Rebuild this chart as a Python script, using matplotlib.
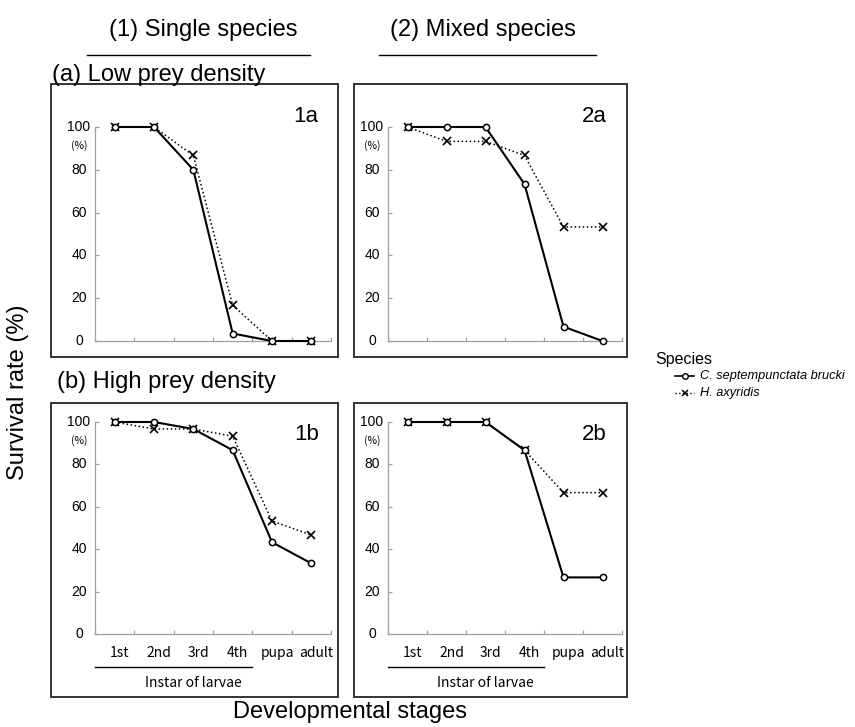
import matplotlib
matplotlib.use("Agg")
import matplotlib.pyplot as plt
from matplotlib.patches import Rectangle
from matplotlib.lines import Line2D
from matplotlib.transforms import offset_copy

# ---------------- data ----------------
stages = ["1st", "2nd", "3rd", "4th", "pupa", "adult"]
yticks = [0, 20, 40, 60, 80, 100]
species = ["C. septempunctata brucki", "H. axyridis"]

c_1a = [100, 100, 80, 3.5, 0, 0]
h_1a = [100, 100, 86.7, 16.7, 0, 0]
c_2a = [100, 100, 100, 73.3, 6.7, 0]
h_2a = [100, 93.3, 93.3, 86.7, 53.3, 53.3]
c_1b = [100, 100, 96.7, 86.7, 43.3, 33.3]
h_1b = [100, 96.7, 96.7, 93.3, 53.3, 46.7]
c_2b = [100, 100, 100, 86.7, 26.7, 26.7]
h_2b = [100, 100, 100, 86.7, 66.7, 66.7]

panels = [
    ("1a", c_1a, h_1a),
    ("2a", c_2a, h_2a),
    ("1b", c_1b, h_1b),
    ("2b", c_2b, h_2b),
]

# ---------------- layout ----------------
W, H = 855, 727
fig = plt.figure(figsize=(W / 100, H / 100), dpi=100)

SANS = ["Liberation Sans", "DejaVu Sans"]
JP = ["Noto Sans CJK JP", "DejaVu Sans"]


def fx(x):
    return x / W


def fy(y):
    return 1 - y / H


col_axis = [(95, 331), (388, 622)]
row_axis = [(127, 341), (422, 634)]
col_box = [(51, 338), (354, 627)]
row_box = [(84, 357), (403, 697)]
label_pos = [(306, 117), (594, 117), (307, 434), (594, 434)]

for k, (name, c_vals, h_vals) in enumerate(panels):
    r, c = divmod(k, 2)
    bx0, bx1 = col_box[c]
    by0, by1 = row_box[r]
    fig.add_artist(Rectangle((fx(bx0), fy(by1)), fx(bx1) - fx(bx0), fy(by0) - fy(by1),
                             transform=fig.transFigure, fill=False, lw=1.4,
                             ec="#333333", zorder=0))
    ax0, ax1 = col_axis[c]
    ay0, ay1 = row_axis[r]
    ax = fig.add_axes([fx(ax0), fy(ay1), fx(ax1) - fx(ax0), fy(ay0) - fy(ay1)])
    ax.patch.set_alpha(0)
    xs = list(range(len(stages)))
    ax.plot(xs, h_vals, linestyle=":", color="black", lw=1.1, marker="x",
            ms=5.5, mew=1.2, clip_on=False, zorder=3)
    ax.plot(xs, c_vals, linestyle="-", color="black", lw=1.5, marker="o",
            ms=4.5, mfc="white", mew=1.1, clip_on=False, zorder=4)
    ax.set_xlim(-0.5, len(stages) - 0.5)
    ax.set_ylim(0, 100)
    for s in ["top", "right"]:
        ax.spines[s].set_visible(False)
    for s in ["left", "bottom"]:
        ax.spines[s].set_color("#a0a0a0")
        ax.spines[s].set_linewidth(0.9)
    ax.set_xticks([i - 0.5 for i in range(len(stages) + 1)])
    ax.set_xticklabels([])
    ax.set_yticks(yticks)
    ax.set_yticklabels([])
    ax.tick_params(axis="both", direction="in", length=3, color="#a0a0a0", width=0.9)

    ytr = offset_copy(ax.get_yaxis_transform(), fig=fig, x=-16, y=0, units="dots")
    for v in yticks:
        ax.text(0, v, str(v), transform=ytr, ha="center", va="center",
                fontsize=10, family=SANS)
    ptr = offset_copy(ax.get_yaxis_transform(), fig=fig, x=-16, y=-19, units="dots")
    ax.text(0, 100, "(%)", transform=ptr, ha="center", va="center",
            fontsize=7.5, family=JP)

    lx, ly = label_pos[k]
    fig.text(fx(lx), fy(ly), name, ha="center", va="center", fontsize=16, family=SANS)

    if r == 1:
        xtr = offset_copy(ax.get_xaxis_transform(), fig=fig, x=5, y=-19, units="dots")
        for i, s in enumerate(stages):
            ax.text(i, 0, s, transform=xtr, ha="center", va="center",
                    fontsize=10, family=JP)
        ltr = offset_copy(ax.get_xaxis_transform(), fig=fig, x=0, y=-33, units="dots")
        ax.add_line(Line2D([-0.5, 3.5], [0, 0], transform=ltr, color="black",
                           lw=1.0, clip_on=False))
        ttr = offset_copy(ax.get_xaxis_transform(), fig=fig, x=0, y=-49, units="dots")
        ax.text(2.0, 0, "Instar of larvae", transform=ttr, ha="center", va="center",
                fontsize=10, family=JP)

# ---------------- titles ----------------
fig.text(fx(203), fy(30), "(1) Single species", ha="center", va="center",
         fontsize=17, family=SANS)
fig.text(fx(483), fy(30), "(2) Mixed species", ha="center", va="center",
         fontsize=17, family=SANS)
fig.add_artist(Line2D([fx(87), fx(310)], [fy(55), fy(55)], color="black", lw=1.0,
                      transform=fig.transFigure))
fig.add_artist(Line2D([fx(379), fx(596)], [fy(55), fy(55)], color="black", lw=1.0,
                      transform=fig.transFigure))
fig.text(fx(52), fy(75), "(a) Low prey density", ha="left", va="center",
         fontsize=17, family=SANS)
fig.text(fx(57), fy(382), "(b) High prey density", ha="left", va="center",
         fontsize=17, family=SANS)
fig.text(fx(18), fy(392), "Survival rate (%)", ha="center", va="center",
         rotation=90, fontsize=17, family=SANS)
fig.text(fx(350), fy(712), "Developmental stages", ha="center", va="center",
         fontsize=17, family=SANS)

# ---------------- legend ----------------
fig.text(fx(655), fy(360), "Species", ha="left", va="center", fontsize=11.5, family=SANS)
fig.add_artist(Line2D([fx(675), fx(694)], [fy(376), fy(376)], color="black", lw=1.2,
                      transform=fig.transFigure))
fig.add_artist(Line2D([fx(684.5)], [fy(376)], color="black", marker="o", ms=4,
                      mfc="white", mew=1.0, transform=fig.transFigure))
fig.text(fx(700), fy(376), species[0], ha="left", va="center", fontsize=9.2,
         style="italic", family=SANS)
fig.add_artist(Line2D([fx(675), fx(694)], [fy(393), fy(393)], color="black", lw=1.0,
                      linestyle=":", transform=fig.transFigure))
fig.add_artist(Line2D([fx(684.5)], [fy(393)], color="black", marker="x", ms=5,
                      mew=1.1, transform=fig.transFigure))
fig.text(fx(700), fy(393), species[1], ha="left", va="center", fontsize=9.2,
         style="italic", family=SANS)

fig.savefig("out.png", dpi=100)
